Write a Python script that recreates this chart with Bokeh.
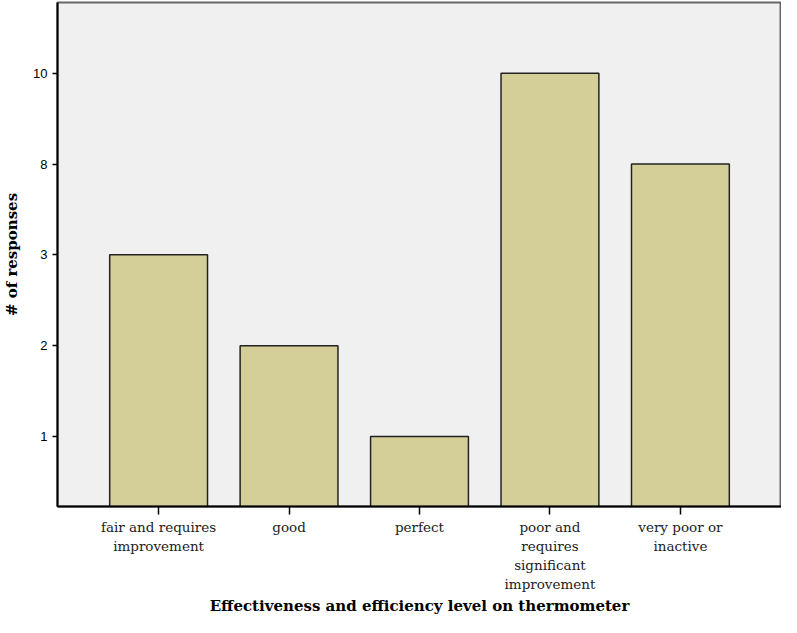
from bokeh.plotting import figure
from bokeh.models import FactorRange, Range1d, FixedTicker, ColumnDataSource, CategoricalAxis
from bokeh.embed import file_html
from bokeh.resources import INLINE

categories = ["fair and requires improvement", "good", "perfect",
              "poor and requires significant improvement", "very poor or inactive"]
category_labels = [["fair and requires", "improvement"], ["good"], ["perfect"],
                   ["poor and", "requires", "significant", "improvement"],
                   ["very poor or", "inactive"]]
responses = [3, 2, 1, 10, 8]
y_levels = [1, 2, 3, 8, 10]          # ordinal tick labels on the y axis

pos = [y_levels.index(v) + 1 for v in responses]
bottom = 0.228
src = ColumnDataSource(dict(cat=categories, top=pos, val=responses))
PAD = 0.11

p = figure(width=781, height=617, output_backend="svg", toolbar_location=None,
           x_range=FactorRange(*categories, range_padding=PAD),
           y_range=Range1d(bottom, 5.78),
           min_border_left=52, min_border_right=0, min_border_top=2, min_border_bottom=104)

p.vbar(x="cat", top="top", bottom=bottom, width=0.75, source=src,
       fill_color="#D4CF98", line_color="#222222", line_width=1.5)

p.background_fill_color = "#F0F0F0"
p.border_fill_color = "white"
p.outline_line_color = "#666666"
p.outline_line_width = 2
p.xgrid.visible = False
p.ygrid.visible = False

p.yaxis.ticker = FixedTicker(ticks=list(range(1, len(y_levels) + 1)))
p.yaxis.major_label_overrides = {i + 1: str(v) for i, v in enumerate(y_levels)}
p.yaxis.minor_tick_line_color = None
p.yaxis.axis_line_color = "black"
p.yaxis.axis_line_width = 2
p.yaxis.major_tick_line_color = "black"
p.yaxis.major_tick_line_width = 1.5
p.yaxis.major_tick_in = 0
p.yaxis.major_tick_out = 5
p.yaxis.major_label_text_font = "Liberation Sans"
p.yaxis.major_label_text_font_size = "13px"
p.yaxis.major_label_text_color = "black"
p.yaxis.axis_label = "# of responses"
p.yaxis.axis_label_text_font = "DejaVu Serif"
p.yaxis.axis_label_text_font_style = "bold"
p.yaxis.axis_label_text_font_size = "15px"
p.yaxis.axis_label_text_color = "black"
p.yaxis.axis_label_standoff = 9

# one factor range per line of the wrapped category labels (blank slots get unique spaces)
n_rows = max(len(l) for l in category_labels)
for j in range(n_rows):
    row = [(l[j] if j < len(l) else " " * (i + 1)) for i, l in enumerate(category_labels)]
    p.extra_x_ranges[f"row{j}"] = FactorRange(*row, range_padding=PAD)

label_font = dict(major_label_text_font="DejaVu Serif", major_label_text_font_size="13.5px",
                  major_label_text_color="#222222")

ax0 = p.xaxis[0]
ax0.x_range_name = "row0"
ax0.axis_line_color = "black"
ax0.axis_line_width = 2
ax0.major_tick_line_color = "black"
ax0.major_tick_line_width = 1.5
ax0.major_tick_in = 0
ax0.major_tick_out = 8
ax0.major_label_standoff = 4
for k, v in label_font.items():
    setattr(ax0, k, v)

last = ax0
for j in range(1, n_rows):
    ax = CategoricalAxis(x_range_name=f"row{j}",
        axis_line_color=None, major_tick_line_color=None, minor_tick_line_color=None,
        major_tick_in=0, major_tick_out=0, major_label_standoff=0, **label_font)
    p.add_layout(ax, "below")
    last = ax

last.axis_label = "Effectiveness and efficiency level on thermometer"
last.axis_label_text_font = "DejaVu Serif"
last.axis_label_text_font_style = "bold"
last.axis_label_text_font_size = "15px"
last.axis_label_text_color = "black"
last.axis_label_standoff = 2

open("out.html", "w").write(file_html(p, INLINE))
